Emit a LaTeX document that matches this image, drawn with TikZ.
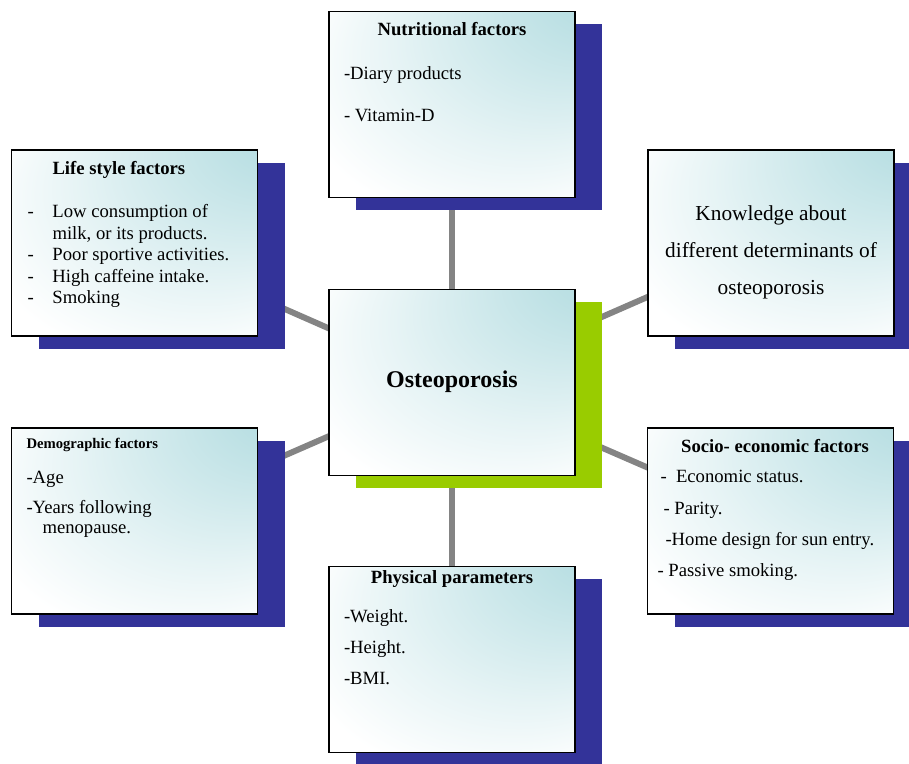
\documentclass[tikz,border=0pt]{standalone}
\usepackage{fontspec}
\setmainfont{Liberation Serif}
\usetikzlibrary{shadows,backgrounds}
\definecolor{boxteal}{RGB}{183,222,226}
\definecolor{shadowblue}{RGB}{51,51,153}
\definecolor{shadowgreen}{RGB}{153,204,0}
\definecolor{linkgray}{RGB}{132,132,132}
% teal glow out of the top right corner
\pgfdeclareradialshading{cornerglow}{\pgfpoint{38bp}{38bp}}{color(0bp)=(boxteal); color(8bp)=(boxteal); color(28bp)=(boxteal!35!white); color(40bp)=(white); color(50bp)=(white)}
% fixed size text area of one box, text hangs from the top
\newcommand{\boxtext}[1]{\begin{minipage}[c][139.5pt][t]{184.5pt}#1\end{minipage}}
% first baseline at #1 below the top edge
\newcommand{\firstbase}[1]{\vspace*{\dimexpr#1-14pt\relax}\rule{0pt}{14pt}}
\newcommand{\dashitem}{\hspace*{12pt}\makebox[18.75pt][l]{-}}
\tikzset{
	factor/.style={draw, line width=1.2pt, inner sep=0pt,
		minimum width=184.5pt, minimum height=139.5pt, shade, shading=cornerglow,
		drop shadow={shadow xshift=20.25pt, shadow yshift=-9.75pt, opacity=1, fill=#1}},
	factor/.default=shadowblue,
	link/.style={draw=linkgray, line width=4.5pt}
}
\begin{document}
\begin{tikzpicture}[x=0.75pt,y=0.75pt]
	\useasboundingbox (0,0) rectangle (909,763);
	%	centre
	\node[factor=shadowgreen] (hub) at (452,380.5) {\boxtext{\fontsize{18}{22}\selectfont\centering
		\firstbase{73.5pt}\textbf{Osteoporosis}}};
	%	top and bottom
	\node[factor] (nut) at (452,658.5) {\boxtext{\fontsize{14}{31.5}\selectfont
		\firstbase{18pt}\makebox[\linewidth]{\bfseries Nutritional factors}\\[1.5pt]
		\hspace*{11.25pt}-Diary products\\
		\hspace*{11.25pt}- Vitamin-D}};
	\node[factor] (phys) at (452,103.5) {\boxtext{\fontsize{14}{23.25}\selectfont
		\firstbase{12.75pt}\makebox[\linewidth]{\bfseries Physical parameters}\\[6pt]
		\hspace*{11.25pt}-Weight.\\
		\hspace*{11.25pt}-Height.\\
		\hspace*{11.25pt}-BMI.}};
	%	left side
	\node[factor] (life) at (134.5,520) {\boxtext{\fontsize{14}{16.1}\selectfont
		\firstbase{18.75pt}\hspace*{30.75pt}\textbf{Life style factors}\\[16.15pt]
		\dashitem Low consumption of\\
		\hspace*{30.75pt}milk, or its products.\\
		\dashitem Poor sportive activities.\\
		\dashitem High caffeine intake.\\
		\dashitem Smoking}};
	\node[factor] (demo) at (134.5,242) {\boxtext{\fontsize{14}{15}\selectfont
		\firstbase{15.75pt}\hspace*{11.25pt}{\fontsize{11}{13}\selectfont\bfseries Demographic factors}\\[11.25pt]
		\hspace*{11.25pt}-Age\\[7.5pt]
		\hspace*{11.25pt}-Years following\\
		\hspace*{23.25pt}menopause.}};
	%	right side
	\node[factor] (know) at (771,520) {\boxtext{\fontsize{16}{27.75}\selectfont\centering
		\firstbase{53.25pt}Knowledge about\\
		different determinants of\\
		osteoporosis}};
	\node[factor] (socio) at (770.5,242) {\boxtext{\fontsize{14}{23.5}\selectfont
		\firstbase{18.75pt}\makebox[\linewidth]{\hspace{6.75pt}\bfseries Socio- economic factors}\\[-1pt]
		\hspace*{9.75pt}-~ Economic status.\\
		\hspace*{12pt}- Parity.\\
		\hspace*{13.5pt}-Home design for sun entry.\\
		\hspace*{7.5pt}- Passive smoking.}};
	%	spokes behind the boxes
	\begin{scope}[on background layer]
		\draw[link] (hub.center) -- (nut.center) (hub.center) -- (phys.center);
		\draw[link] (hub.center) -- (life.center) (hub.center) -- (demo.center);
		\draw[link] (hub.center) -- (know.center) (hub.center) -- (socio.center);
	\end{scope}
\end{tikzpicture}
\end{document}
